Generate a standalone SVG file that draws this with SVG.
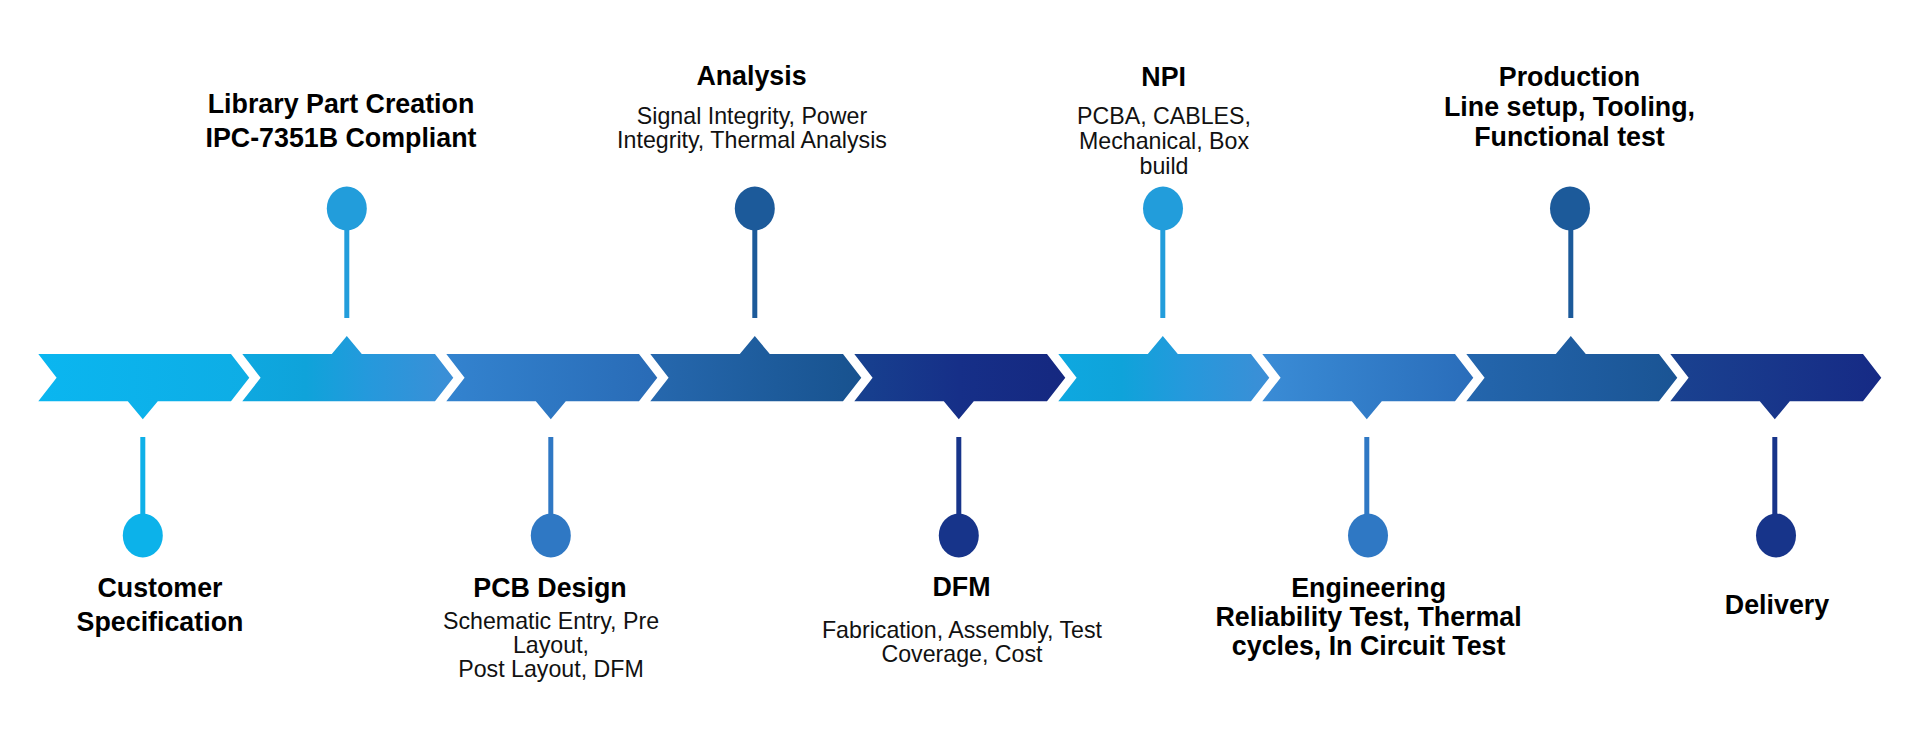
<svg xmlns="http://www.w3.org/2000/svg" width="1920" height="750" viewBox="0 0 1920 750">
<defs>
<style>
.h{font-family:"Liberation Sans",Arial,sans-serif;font-weight:bold;font-size:26.8px;fill:#000;text-anchor:middle}
.s{font-family:"Liberation Sans",Arial,sans-serif;font-size:23.2px;fill:#111;text-anchor:middle}
.stem{stroke-width:5;fill:none}
</style>
<linearGradient id="g1" x1="0" y1="0" x2="1" y2="0"><stop offset="0" stop-color="#0ab6f0"/><stop offset="1" stop-color="#0eade5"/></linearGradient>
<linearGradient id="g2" x1="0" y1="0" x2="1" y2="0"><stop offset="0" stop-color="#0ea8e0"/><stop offset="0.3" stop-color="#0fa3da"/><stop offset="0.6" stop-color="#2599dc"/><stop offset="1" stop-color="#3c8ed6"/></linearGradient>
<linearGradient id="g3" x1="0" y1="0" x2="1" y2="0"><stop offset="0" stop-color="#3383cf"/><stop offset="1" stop-color="#296bb6"/></linearGradient>
<linearGradient id="g4" x1="0" y1="0" x2="1" y2="0"><stop offset="0" stop-color="#2668ae"/><stop offset="0.6" stop-color="#1d5b9b"/><stop offset="1" stop-color="#18528f"/></linearGradient>
<linearGradient id="g5" x1="0" y1="0" x2="1" y2="0"><stop offset="0" stop-color="#17418f"/><stop offset="0.5" stop-color="#162f88"/><stop offset="1" stop-color="#152880"/></linearGradient>
<linearGradient id="g7" x1="0" y1="0" x2="1" y2="0"><stop offset="0" stop-color="#3a8cd6"/><stop offset="1" stop-color="#2a6dba"/></linearGradient>
<linearGradient id="g8" x1="0" y1="0" x2="1" y2="0"><stop offset="0" stop-color="#2466ad"/><stop offset="1" stop-color="#1a5494"/></linearGradient>
<linearGradient id="g9" x1="0" y1="0" x2="1" y2="0"><stop offset="0" stop-color="#1a4290"/><stop offset="1" stop-color="#162a85"/></linearGradient>
</defs>
<rect width="1920" height="750" fill="#fff"/>

<g id="connectors">
<line class="stem" x1="142.8" y1="437" x2="142.8" y2="515" stroke="#0fb0e8"/>
<line class="stem" x1="346.8" y1="229" x2="346.8" y2="318" stroke="#229ddb"/>
<line class="stem" x1="550.8" y1="437" x2="550.8" y2="515" stroke="#2f78c4"/>
<line class="stem" x1="754.8" y1="229" x2="754.8" y2="318" stroke="#1c5a9a"/>
<line class="stem" x1="958.8" y1="437" x2="958.8" y2="515" stroke="#17348a"/>
<line class="stem" x1="1162.8" y1="229" x2="1162.8" y2="318" stroke="#229ddb"/>
<line class="stem" x1="1366.8" y1="437" x2="1366.8" y2="515" stroke="#2f78c4"/>
<line class="stem" x1="1570.8" y1="229" x2="1570.8" y2="318" stroke="#1c5a9a"/>
<line class="stem" x1="1774.8" y1="437" x2="1774.8" y2="515" stroke="#17348a"/>
</g>

<g id="stage1">
<polygon fill="url(#g1)" points="38.3,354 231,354 249.3,377.7 231,401.3 157.8,401.3 142.8,419.3 127.8,401.3 38.3,401.3 56.6,377.7"/>
<ellipse cx="142.8" cy="535.5" rx="20" ry="22" fill="#0cb2ea"/>
<text class="h" x="160" y="597">Customer</text>
<text class="h" x="160" y="631">Specification</text>
</g>

<g id="stage2">
<polygon fill="url(#g2)" points="242.3,354 331.8,354 346.8,336 361.8,354 435,354 453.3,377.7 435,401.3 242.3,401.3 260.6,377.7"/>
<ellipse cx="346.8" cy="208.5" rx="20" ry="22" fill="#229ddb"/>
<text class="h" x="341" y="112.7">Library Part Creation</text>
<text class="h" x="341" y="146.7">IPC-7351B Compliant</text>
</g>

<g id="stage3">
<polygon fill="url(#g3)" points="446.3,354 639,354 657.3,377.7 639,401.3 565.8,401.3 550.8,419.3 535.8,401.3 446.3,401.3 464.6,377.7"/>
<ellipse cx="550.8" cy="535.5" rx="20" ry="22" fill="#2f78c4"/>
<text class="h" x="550" y="597">PCB Design</text>
<text class="s" x="551" y="629">Schematic Entry, Pre</text>
<text class="s" x="551" y="653">Layout,</text>
<text class="s" x="551" y="677">Post Layout, DFM</text>
</g>

<g id="stage4">
<polygon fill="url(#g4)" points="650.3,354 739.8,354 754.8,336 769.8,354 843,354 861.3,377.7 843,401.3 650.3,401.3 668.6,377.7"/>
<ellipse cx="754.8" cy="208.5" rx="20" ry="22" fill="#1c5a9a"/>
<text class="h" x="751.5" y="85.3">Analysis</text>
<text class="s" x="752" y="124">Signal Integrity, Power</text>
<text class="s" x="752" y="148.3">Integrity, Thermal Analysis</text>
</g>

<g id="stage5">
<polygon fill="url(#g5)" points="854.3,354 1047,354 1065.3,377.7 1047,401.3 973.8,401.3 958.8,419.3 943.8,401.3 854.3,401.3 872.6,377.7"/>
<ellipse cx="958.8" cy="535.5" rx="20" ry="22" fill="#17348a"/>
<text class="h" x="961.5" y="596">DFM</text>
<text class="s" x="962" y="638.3">Fabrication, Assembly, Test</text>
<text class="s" x="962" y="661.7">Coverage, Cost</text>
</g>

<g id="stage6">
<polygon fill="url(#g2)" points="1058.3,354 1147.8,354 1162.8,336 1177.8,354 1251,354 1269.3,377.7 1251,401.3 1058.3,401.3 1076.6,377.7"/>
<ellipse cx="1163" cy="208.5" rx="20" ry="22" fill="#229ddb"/>
<text class="h" x="1163.7" y="86">NPI</text>
<text class="s" x="1164" y="124">PCBA, CABLES,</text>
<text class="s" x="1164" y="149.3">Mechanical, Box</text>
<text class="s" x="1164" y="174">build</text>
</g>

<g id="stage7">
<polygon fill="url(#g7)" points="1262.3,354 1455,354 1473.3,377.7 1455,401.3 1381.8,401.3 1366.8,419.3 1351.8,401.3 1262.3,401.3 1280.6,377.7"/>
<ellipse cx="1368" cy="535.5" rx="20" ry="22" fill="#2f78c4"/>
<text class="h" x="1368.6" y="596.7">Engineering</text>
<text class="h" x="1368.6" y="625.7">Reliability Test, Thermal</text>
<text class="h" x="1368.6" y="654.5">cycles, In Circuit Test</text>
</g>

<g id="stage8">
<polygon fill="url(#g8)" points="1466.3,354 1555.8,354 1570.8,336 1585.8,354 1659,354 1677.3,377.7 1659,401.3 1466.3,401.3 1484.6,377.7"/>
<ellipse cx="1570" cy="208.5" rx="20" ry="22" fill="#1c5a9a"/>
<text class="h" x="1569.5" y="86">Production</text>
<text class="h" x="1569.5" y="116">Line setup, Tooling,</text>
<text class="h" x="1569.5" y="146">Functional test</text>
</g>

<g id="stage9">
<polygon fill="url(#g9)" points="1670.3,354 1863,354 1881.3,377.7 1863,401.3 1789.8,401.3 1774.8,419.3 1759.8,401.3 1670.3,401.3 1688.6,377.7"/>
<ellipse cx="1776" cy="535.5" rx="20" ry="22" fill="#17348a"/>
<text class="h" x="1777" y="614">Delivery</text>
</g>
</svg>
